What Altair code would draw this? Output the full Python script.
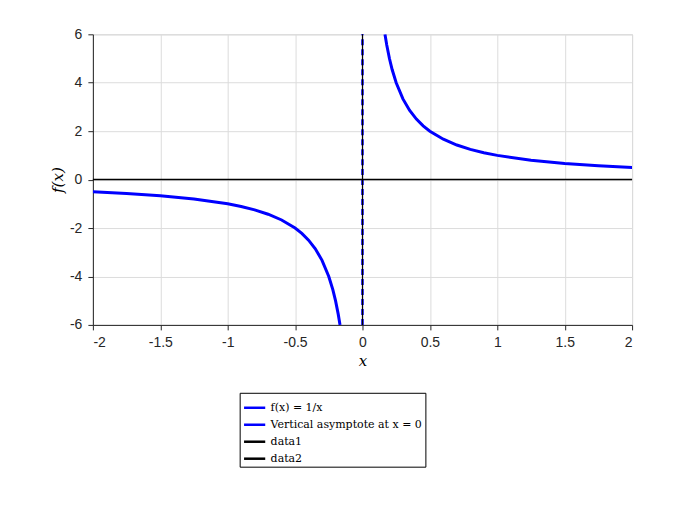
import altair as alt
import pandas as pd

# left branch of f(x) = 1/x
x_left = [-2, -1.75, -1.5, -1.25, -1, -0.9, -0.8, -0.7, -0.6, -0.5, -0.45, -0.4,
          -0.35, -0.3, -0.25, -0.22, -0.2, -0.18, -0.1667]
y_left = [-0.5, -0.571, -0.667, -0.8, -1, -1.111, -1.25, -1.429, -1.667, -2, -2.222,
          -2.5, -2.857, -3.333, -4, -4.545, -5, -5.556, -6]
# right branch
x_right = [0.1667, 0.18, 0.2, 0.22, 0.25, 0.3, 0.35, 0.4, 0.45, 0.5, 0.6, 0.7, 0.8,
           0.9, 1, 1.25, 1.5, 1.75, 2]
y_right = [6, 5.556, 5, 4.545, 4, 3.333, 2.857, 2.5, 2.222, 2, 1.667, 1.429, 1.25,
           1.111, 1, 0.8, 0.667, 0.571, 0.5]

labels = ["f(x) = 1/x", "Vertical asymptote at x = 0", "data1", "data2"]
colors = ["#0000ff", "#0000ff", "#000000", "#000000"]

curve = pd.DataFrame({
    "x": x_left + x_right,
    "y": y_left + y_right,
    "branch": ["L"] * len(x_left) + ["R"] * len(x_right),
    "series": labels[0],
})
asym = pd.DataFrame({"x": [0, 0], "y": [-6, 6], "series": labels[1]})
hline = pd.DataFrame({"x": [-2, 2], "y": [0, 0], "series": labels[2]})
vline = pd.DataFrame({"x": [0, 0], "y": [-6, 6], "series": labels[3]})

xs = alt.Scale(domain=[-2, 2], nice=False)
ys = alt.Scale(domain=[-6, 6], nice=False)
color = alt.Color(
    "series:N",
    scale=alt.Scale(domain=labels, range=colors),
    title=None,
    legend=alt.Legend(
        orient="none", legendX=147, legendY=359, direction="vertical",
        strokeColor="black", fillColor="white", padding=3,
        symbolType="stroke", symbolStrokeWidth=2.5, symbolSize=450,
        labelFont="DejaVu Serif", labelFontSize=11, rowPadding=0,
        labelLimit=400, labelColor="black",
    ),
)
fix_minus = "replace(datum.label, '\u2212', '-')"
xenc = alt.X("x:Q", scale=xs, title="x",
             axis=alt.Axis(values=[-2, -1.5, -1, -0.5, 0, 0.5, 1, 1.5, 2],
                           format="~g", labelExpr=fix_minus))
yenc = alt.Y("y:Q", scale=ys, title="f(x)",
             axis=alt.Axis(values=[-6, -4, -2, 0, 2, 4, 6], format="~g",
                           labelExpr=fix_minus))

c = alt.Chart(curve).mark_line(strokeWidth=3, clip=True).encode(
    x=xenc, y=yenc, color=color, detail="branch:N")
a = alt.Chart(asym).mark_line(strokeWidth=2.5, strokeDash=[6, 4]).encode(
    x="x:Q", y="y:Q", color=color)
h = alt.Chart(hline).mark_line(strokeWidth=1.5).encode(x="x:Q", y="y:Q", color=color)
v = alt.Chart(vline).mark_line(strokeWidth=1.2).encode(x="x:Q", y="y:Q", color=color)

chart = (c + a + h + v).properties(
    width=540, height=291,
    title=alt.Title("f(x) = 1/x with Asymptote at x = 0", font="DejaVu Serif",
                    fontSize=16, fontWeight="normal", color="black", offset=4,
                    baseline="bottom"),
    autosize=alt.AutoSizeParams(type="none"),
    padding={"left": 85, "top": 26, "right": 60, "bottom": 170},
).configure_view(stroke="#d0d0d0").configure_axis(
    labelFont="Liberation Sans", labelFontSize=14, labelColor="#262626",
    titleFont="DejaVu Serif", titleFontSize=15, titleFontWeight="normal",
    titleFontStyle="italic", titleColor="black",
    gridColor="#dcdcdc", domainColor="#262626", tickColor="#262626",
    tickSize=5, labelPadding=6,
)

chart.save("out.html", embed_options={"renderer": "svg", "actions": False})
